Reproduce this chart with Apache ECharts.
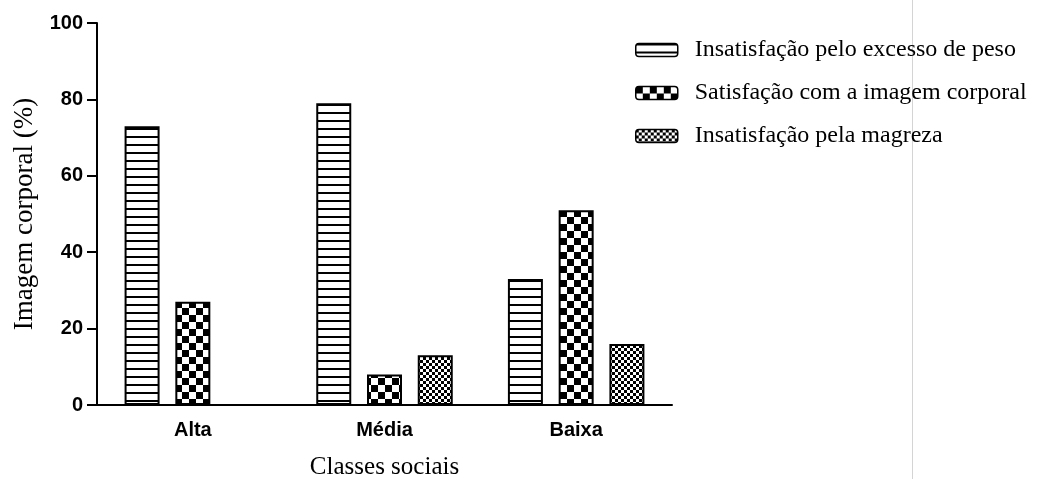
<!DOCTYPE html>
<html><head><meta charset="utf-8">
<script src="https://cdn.jsdelivr.net/npm/echarts@6/dist/echarts.min.js"></script>
<style>html,body{margin:0;padding:0;background:#fff}#c{width:1043px;height:479px}</style>
</head><body><div id="c"></div>
<script>
const categories = ['Alta', 'Média', 'Baixa'];
const seriesNames = ['Insatisfação pelo excesso de peso', 'Satisfação com a imagem corporal', 'Insatisfação pela magreza'];
const excessoPeso = [73, 79, 33];
const satisfacao = [27, 8, 51];
const magreza = [0, 13, 16];
const yTicks = [0, 20, 40, 60, 80, 100];

function stripes() {
  const c = document.createElement('canvas'); c.width = 8; c.height = 8;
  const g = c.getContext('2d'); g.fillStyle = '#fff'; g.fillRect(0,0,8,8);
  g.fillStyle = '#000'; g.fillRect(0,0,8,2); return c;
}
function checker(s) {
  const c = document.createElement('canvas'); c.width = 2*s; c.height = 2*s;
  const g = c.getContext('2d'); g.fillStyle = '#fff'; g.fillRect(0,0,2*s,2*s);
  g.fillStyle = '#000'; g.fillRect(0,0,s,s); g.fillRect(s,s,s,s); return c;
}
const patterns = [stripes(), checker(7), checker(3)];
const data = [excessoPeso, satisfacao, magreza];

const chart = echarts.init(document.getElementById('c'), null, {renderer: 'canvas'});
chart.setOption({
  animation: false,
  grid: {left: 97, right: 371, top: 23, bottom: 74, containLabel: false, outerBoundsMode: 'none'},
  legend: {
    orient: 'vertical', left: 630, top: 33, itemWidth: 42, itemHeight: 13, itemGap: 19,
    itemStyle: {borderWidth: 1.5, borderColor: '#000'},
    textStyle: {fontFamily: 'Liberation Serif', fontSize: 24, color: '#000', padding: [0,0,0,12]},
    data: seriesNames
  },
  xAxis: {
    type: 'category', data: categories,
    name: 'Classes sociais', nameLocation: 'middle', nameGap: 50,
    nameTextStyle: {fontFamily: 'Liberation Serif', fontSize: 25, color: '#000'},
    axisLine: {lineStyle: {color: '#000', width: 2}},
    axisTick: {alignWithLabel: true, length: 10, lineStyle: {color: '#000', width: 2}},
    axisLabel: {fontFamily: 'Liberation Sans', fontWeight: 'bold', fontSize: 20, color: '#000', margin: 15}
  },
  yAxis: {
    type: 'value', min: 0, max: 100, interval: 20,
    name: 'Imagem corporal (%)', nameLocation: 'middle', nameGap: 57,
    nameTextStyle: {fontFamily: 'Liberation Serif', fontSize: 27, color: '#000'},
    axisLine: {show: true, lineStyle: {color: '#000', width: 2}},
    axisTick: {show: true, length: 10, lineStyle: {color: '#000', width: 2}},
    splitLine: {show: false},
    axisLabel: {fontFamily: 'Liberation Sans', fontWeight: 'bold', fontSize: 20, color: '#000', margin: 14,
      formatter: v => yTicks.includes(v) ? String(v) : ''}
  },
  graphic: [{type: 'line', shape: {x1: 912.5, y1: 0, x2: 912.5, y2: 479}, style: {stroke: '#d4d4d4', lineWidth: 1}, z: -1}],
  series: seriesNames.map((n, i) => ({
    name: n, type: 'bar', data: data[i],
    barWidth: 35, barGap: '45%', barCategoryGap: '27%',
    itemStyle: {color: {image: patterns[i], repeat: 'repeat'}, borderColor: '#000', borderWidth: 2}
  }))
});
</script></body></html>
